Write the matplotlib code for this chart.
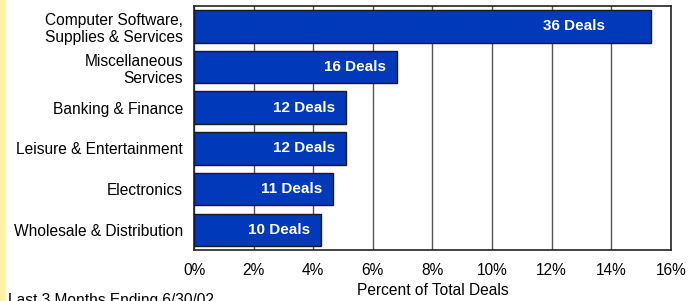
import matplotlib.pyplot as plt
from matplotlib.patches import Rectangle

plt.rcParams['font.family'] = ['Liberation Sans', 'DejaVu Sans']

categories = ['Computer Software,\nSupplies & Services', 'Miscellaneous\nServices',
              'Banking & Finance', 'Leisure & Entertainment', 'Electronics',
              'Wholesale & Distribution']
deals = [36, 16, 12, 12, 11, 10]
percent = [15.33, 6.81, 5.11, 5.11, 4.68, 4.26]

fig = plt.figure(figsize=(6.88, 3.01), dpi=100)
fig.patches.append(Rectangle((0, 0), 0.007, 1, transform=fig.transFigure,
                             color='#FFF2A6', zorder=0))
ax = fig.add_axes([0.282, 0.169, 0.693, 0.811])

y = list(range(len(categories)))
ax.barh(y, percent, height=0.8, color='#0039BA', edgecolor='#1a1a1a',
        linewidth=1, zorder=3)
for i, (p, d) in enumerate(zip(percent, deals)):
    off = -33 if i == 0 else -8
    ax.annotate(f'{d} Deals', (p, i), xytext=(off, 0), textcoords='offset points',
                ha='right', va='center', color='white', fontsize=11,
                fontweight='bold', zorder=4)

ax.set_xlim(0, 16)
ax.set_ylim(5.5, -0.5)
ax.set_xticks(range(0, 17, 2))
ax.set_xticklabels([f'{v}%' for v in range(0, 17, 2)])
ax.set_yticks(y)
ax.set_yticklabels(categories, ha='right', multialignment='right')
ax.tick_params(axis='both', length=0, labelsize=11.2, colors='black', pad=8)
ax.tick_params(axis='x', pad=9)
ax.grid(axis='x', color='#555555', linewidth=1, zorder=1)
for s in ax.spines.values():
    s.set_color('#222222')
    s.set_linewidth(1.2)
ax.set_xlabel('Percent of Total Deals', fontsize=11.2, labelpad=4)

fig.text(0.012, 8 / 301, 'Last 3 Months Ending 6/30/02', fontsize=11.2, va='top')

plt.savefig('out.png', dpi=100)
